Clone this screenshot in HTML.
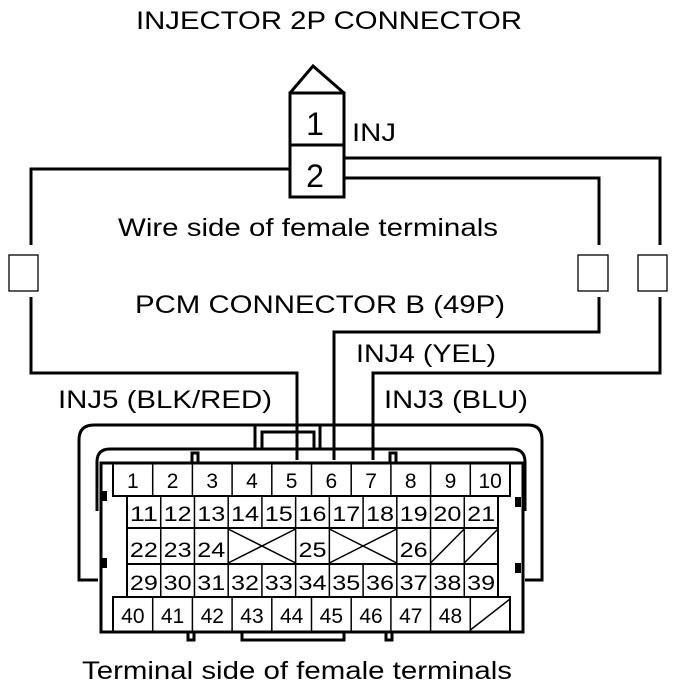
<!DOCTYPE html>
<html><head><meta charset="utf-8"><style>html,body{margin:0;padding:0;background:#fff}svg{display:block}</style></head>
<body>
<svg width="688" height="692" viewBox="0 0 688 692" xmlns="http://www.w3.org/2000/svg" font-family="Liberation Sans, sans-serif" fill="none" stroke="#000">
<g fill="#000" stroke="none" font-size="25">
<text x="136" y="29" textLength="386" lengthAdjust="spacingAndGlyphs">INJECTOR 2P CONNECTOR</text>
<text x="352" y="141" textLength="44" lengthAdjust="spacingAndGlyphs">INJ</text>
<text x="118" y="236" textLength="380" lengthAdjust="spacingAndGlyphs">Wire side of female terminals</text>
<text x="135" y="313" textLength="370" lengthAdjust="spacingAndGlyphs">PCM CONNECTOR B (49P)</text>
<text x="356" y="362" textLength="140" lengthAdjust="spacingAndGlyphs">INJ4 (YEL)</text>
<text x="58" y="408" textLength="214" lengthAdjust="spacingAndGlyphs">INJ5 (BLK/RED)</text>
<text x="384" y="408" textLength="144" lengthAdjust="spacingAndGlyphs">INJ3 (BLU)</text>
<text x="82" y="679" textLength="430" lengthAdjust="spacingAndGlyphs">Terminal side of female terminals</text>
</g>
<g stroke-width="3">
<path d="M290 93 L313 66 L344 93"/>
<rect x="290" y="93" width="54" height="104"/>
<line x1="290" y1="145" x2="344" y2="145"/>
</g>
<g fill="#000" stroke="none" font-size="32" text-anchor="middle">
<text x="315" y="135">1</text><text x="315" y="187">2</text>
</g>
<g stroke-width="3">
<path d="M290 169 H31 V245"/><path d="M31 297 V373 H297 V460"/>
<path d="M344 158 H660 V245"/><path d="M660 297 V373 H373 V460"/>
<path d="M344 178 H599 V245"/><path d="M599 297 V332 H334 V460"/>
</g>
<g stroke-width="1.3">
<rect x="9" y="255" width="29" height="36"/>
<rect x="578" y="255" width="30" height="36"/>
<rect x="638" y="255" width="29" height="36"/>
</g>
<g stroke-width="3">
<path d="M98 580 H79 V440 Q79 425 94 425 H528 Q542 425 542 440 V580 H525"/>
<path d="M97 511 V462 Q97 449 110 449 H512 Q525 449 525 462 V511"/>
<rect x="255" y="425" width="65" height="24"/>
<path d="M262 449 V432 H314 V449"/>
<rect x="101" y="463" width="422" height="169" fill="#fff"/>
<rect x="192" y="453" width="6" height="10"/><rect x="390" y="453" width="6" height="10"/>
<rect x="188" y="632" width="6" height="8"/><rect x="386" y="632" width="6" height="8"/>
<path d="M242 632 V640 H344 V632"/>
</g>
<g fill="#000" stroke="none">
<rect x="101" y="491" width="6" height="10"/><rect x="101" y="558" width="6" height="10"/>
<rect x="515" y="497" width="6" height="10"/><rect x="515" y="563" width="6" height="10"/>
</g>
<g stroke-width="2">
<rect x="113" y="463" width="397" height="33"/>
<rect x="113" y="597" width="397" height="35"/>
<rect x="127" y="496" width="371" height="101"/>
<line x1="127" y1="528" x2="498" y2="528"/><line x1="127" y1="564" x2="498" y2="564"/>
</g>
<g stroke-width="1.5" id="grid"></g>
<g fill="#000" stroke="none" font-size="21" text-anchor="middle" id="nums"></g>
<script>
var ns="http://www.w3.org/2000/svg",g=document.getElementById('grid'),t=document.getElementById('nums');
function L(a,b,c,d){var l=document.createElementNS(ns,'line');l.setAttribute('x1',a);l.setAttribute('y1',b);l.setAttribute('x2',c);l.setAttribute('y2',d);g.appendChild(l);}
function T(x,y,s,n){var e=document.createElementNS(ns,'text');e.setAttribute('x',x);e.setAttribute('y',y);if(n){e.setAttribute('textLength',n);e.setAttribute('lengthAdjust','spacingAndGlyphs');e.setAttribute('text-anchor','start');e.setAttribute('x',x-n/2);}e.textContent=s;t.appendChild(e);}
var w1=397/10;
for(var i=0;i<10;i++){var x=113+i*w1;if(i>0){L(x,463,x,496);L(x,597,x,632);}T(x+w1/2,488,String(i+1));if(i<9)T(x+w1/2,623,String(40+i));}
L(113+9*w1,630,113+10*w1,599);
var w2=371/11;
function cx(c){return 127+c*w2;}
for(var c=1;c<11;c++){L(cx(c),496,cx(c),528);L(cx(c),564,cx(c),597);}
for(var c=0;c<11;c++){T(cx(c)+w2/2,521,String(11+c),28);T(cx(c)+w2/2,590,String(29+c),28);}
[1,2,3,5,6,8,9,10].forEach(function(c){L(cx(c),528,cx(c),564);});
T(cx(0)+w2/2,557,'22',28);T(cx(1)+w2/2,557,'23',28);T(cx(2)+w2/2,557,'24',28);T(cx(5)+w2/2,557,'25',28);T(cx(8)+w2/2,557,'26',28);
L(cx(3),529,cx(5),563);L(cx(3),563,cx(5),529);
L(cx(6),529,cx(8),563);L(cx(6),563,cx(8),529);
L(cx(9),563,cx(10),529);L(cx(10),563,cx(11),529);
</script>
</svg>
</body></html>
